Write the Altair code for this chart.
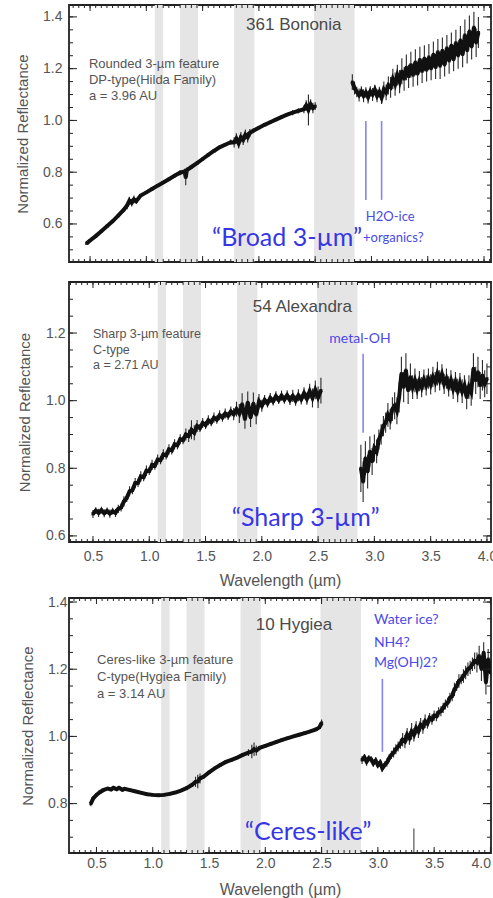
import altair as alt
import pandas as pd

FONT = "Liberation Sans"
BFONT = "Lato"
GRAY = "#555555"
BLUE = "#3636e6"
BLUE_S = "#4a4ae8"
BLUE_L = "#8585f2"

# telluric (masked) bands, micron
band_lo = [1.075, 1.30, 1.78, 2.49]
band_hi = [1.150, 1.46, 1.96, 2.85]

x_major = [0.5, 1.0, 1.5, 2.0, 2.5, 3.0, 3.5, 4.0]

# ---------------- 361 Bononia ----------------
p1a_wl = [0.47, 0.50, 0.55, 0.60, 0.65, 0.70, 0.75, 0.80,
          0.83, 0.85, 0.87, 0.89, 0.91,
          0.95, 1.00, 1.05, 1.10, 1.15, 1.20, 1.25, 1.30,
          1.34, 1.35, 1.36,
          1.40, 1.45, 1.50, 1.55, 1.60, 1.65, 1.70, 1.75,
          1.78, 1.80, 1.82, 1.84, 1.86, 1.88, 1.90, 1.92,
          1.95, 2.00, 2.05, 2.10, 2.15, 2.20, 2.25, 2.30, 2.35, 2.40,
          2.42, 2.44, 2.46, 2.48, 2.50]
p1a_r = [0.525, 0.536, 0.553, 0.572, 0.591, 0.610, 0.632, 0.655,
         0.672, 0.690, 0.682, 0.695, 0.688,
         0.710, 0.722, 0.735, 0.748, 0.760, 0.773, 0.786, 0.798,
         0.803, 0.780, 0.808,
         0.820, 0.835, 0.851, 0.867, 0.882, 0.896, 0.906, 0.916,
         0.915, 0.930, 0.912, 0.935, 0.925, 0.945, 0.935, 0.952,
         0.960, 0.972, 0.983, 0.993, 1.003, 1.013, 1.022, 1.030, 1.037, 1.043,
         1.058, 1.040, 1.062, 1.048, 1.055]
p1a_e = [0, 0, 0.005, 0.005, 0, 0, 0, 0.01,
         0.015, 0.015, 0.015, 0.015, 0.01,
         0, 0, 0, 0, 0, 0, 0, 0.01,
         0.01, 0.03, 0.01,
         0, 0, 0, 0, 0, 0, 0, 0.01,
         0.02, 0.02, 0.02, 0.02, 0.02, 0.02, 0.02, 0.015,
         0.01, 0, 0, 0, 0, 0, 0, 0.01, 0.01, 0.015,
         0.02, 0.06, 0.02, 0.02, 0.015]
p1b_wl = [2.83, 2.85, 2.87, 2.89, 2.91, 2.93, 2.95, 2.97, 2.99, 3.01,
          3.03, 3.05, 3.07, 3.09, 3.11, 3.13, 3.15, 3.17, 3.19, 3.21,
          3.23, 3.25, 3.27, 3.29, 3.31, 3.33, 3.35, 3.37, 3.39, 3.41,
          3.43, 3.45, 3.47, 3.49, 3.51, 3.53, 3.55, 3.57, 3.59, 3.61,
          3.63, 3.65, 3.67, 3.69, 3.71, 3.73, 3.75, 3.77, 3.79, 3.81,
          3.83, 3.85, 3.87, 3.89, 3.91, 3.93, 3.95]
p1b_r = [1.148, 1.125, 1.110, 1.098, 1.112, 1.095, 1.108, 1.090, 1.112, 1.100,
         1.118, 1.095, 1.110, 1.088, 1.120, 1.108, 1.135, 1.128, 1.160, 1.140,
         1.175, 1.150, 1.190, 1.160, 1.205, 1.170, 1.215, 1.175, 1.225, 1.180,
         1.235, 1.190, 1.240, 1.195, 1.245, 1.200, 1.255, 1.205, 1.265, 1.210,
         1.270, 1.215, 1.280, 1.230, 1.290, 1.235, 1.300, 1.250, 1.310, 1.255,
         1.330, 1.270, 1.345, 1.285, 1.360, 1.300, 1.340]
p1b_e = [0.03, 0.025, 0.02, 0.025, 0.02, 0.025, 0.02, 0.025, 0.02, 0.025,
         0.02, 0.025, 0.02, 0.025, 0.03, 0.03, 0.035, 0.04, 0.04, 0.045,
         0.04, 0.045, 0.05, 0.045, 0.05, 0.045, 0.05, 0.045, 0.05, 0.045,
         0.05, 0.045, 0.05, 0.045, 0.05, 0.045, 0.05, 0.045, 0.05, 0.05,
         0.05, 0.045, 0.05, 0.05, 0.05, 0.045, 0.05, 0.05, 0.055, 0.05,
         0.06, 0.05, 0.06, 0.05, 0.06, 0.055, 0.06]

# ---------------- 54 Alexandra ----------------
p2a_wl = [0.500, 0.525, 0.550, 0.575, 0.600, 0.625, 0.650, 0.675, 0.700, 0.725,
          0.750, 0.775, 0.800, 0.825, 0.850, 0.875, 0.900, 0.925, 0.950, 0.975,
          1.000, 1.025, 1.050, 1.075, 1.100, 1.125, 1.150, 1.175, 1.200, 1.225,
          1.250, 1.275, 1.300, 1.325, 1.350, 1.375, 1.400, 1.425, 1.450, 1.475,
          1.500, 1.525, 1.550, 1.575, 1.600, 1.625, 1.650, 1.675, 1.700, 1.725,
          1.750, 1.775, 1.800, 1.825, 1.850, 1.875, 1.900, 1.925, 1.950, 1.975,
          2.000, 2.025, 2.050, 2.075, 2.100, 2.125, 2.150, 2.175, 2.200, 2.225,
          2.250, 2.275, 2.300, 2.325, 2.350, 2.375, 2.400, 2.425, 2.450, 2.475,
          2.500, 2.525]
p2a_r = [0.665, 0.675, 0.668, 0.676, 0.667, 0.674, 0.666, 0.673, 0.668, 0.680,
         0.684, 0.702, 0.712, 0.732, 0.735, 0.756, 0.757, 0.776, 0.774, 0.793,
         0.792, 0.810, 0.808, 0.826, 0.824, 0.841, 0.838, 0.856, 0.853, 0.871,
         0.868, 0.886, 0.883, 0.900, 0.896, 0.914, 0.905, 0.925, 0.919, 0.934,
         0.928, 0.942, 0.936, 0.950, 0.944, 0.957, 0.950, 0.962, 0.955, 0.968,
         0.960, 0.975, 0.962, 0.990, 0.945, 0.995, 0.950, 0.992, 0.958, 0.998,
         0.985, 1.002, 0.992, 1.008, 0.998, 1.013, 1.002, 1.015, 1.003, 1.016,
         1.002, 1.014, 1.000, 1.016, 1.004, 1.022, 1.006, 1.028, 1.008, 1.032,
         1.010, 1.030]
p2a_e = [0.012, 0.01, 0.012, 0.01, 0.012, 0.01, 0.012, 0.01, 0.012, 0.012,
         0.012, 0.015, 0.012, 0.015, 0.012, 0.015, 0.012, 0.015, 0.012, 0.015,
         0.012, 0.015, 0.012, 0.015, 0.012, 0.015, 0.012, 0.015, 0.012, 0.015,
         0.012, 0.015, 0.012, 0.018, 0.018, 0.028, 0.022, 0.018, 0.012, 0.015,
         0.012, 0.015, 0.012, 0.015, 0.012, 0.015, 0.012, 0.015, 0.012, 0.015,
         0.018, 0.022, 0.028, 0.032, 0.028, 0.032, 0.028, 0.032, 0.028, 0.022,
         0.018, 0.015, 0.012, 0.015, 0.012, 0.015, 0.012, 0.015, 0.012, 0.015,
         0.015, 0.018, 0.015, 0.018, 0.015, 0.018, 0.018, 0.022, 0.028, 0.028,
         0.032, 0.038]
p2b_wl = [2.88, 2.90, 2.92, 2.94, 2.96, 2.98, 3.00, 3.02, 3.04, 3.06,
          3.08, 3.10, 3.12, 3.14, 3.16, 3.18, 3.20, 3.22, 3.24, 3.26,
          3.28, 3.30, 3.32, 3.34, 3.36, 3.38, 3.40, 3.42, 3.44, 3.46,
          3.48, 3.50, 3.52, 3.54, 3.56, 3.58, 3.60, 3.62, 3.64, 3.66,
          3.68, 3.70, 3.72, 3.74, 3.76, 3.78, 3.80, 3.82, 3.84, 3.86,
          3.88, 3.90, 3.92, 3.94, 3.96, 3.98, 4.00]
p2b_r = [0.800, 0.760, 0.830, 0.790, 0.850, 0.820, 0.860, 0.850, 0.885, 0.900,
         0.925, 0.935, 0.958, 0.945, 0.975, 0.985, 0.970, 1.010, 1.080, 1.040,
         1.090, 1.030, 1.070, 1.040, 1.060, 1.035, 1.058, 1.040, 1.062, 1.045,
         1.065, 1.048, 1.070, 1.055, 1.080, 1.060, 1.078, 1.050, 1.065, 1.042,
         1.060, 1.035, 1.055, 1.030, 1.052, 1.028, 1.045, 1.010, 1.040, 1.025,
         1.095, 1.060, 1.085, 1.045, 1.075, 1.050, 1.065]
p2b_e = [0.07, 0.06, 0.05, 0.05, 0.045, 0.04, 0.04, 0.035, 0.03, 0.03,
         0.03, 0.03, 0.035, 0.03, 0.035, 0.04, 0.04, 0.045, 0.05, 0.045,
         0.05, 0.04, 0.04, 0.035, 0.035, 0.03, 0.03, 0.03, 0.03, 0.03,
         0.03, 0.03, 0.03, 0.03, 0.035, 0.03, 0.03, 0.03, 0.03, 0.03,
         0.03, 0.03, 0.03, 0.035, 0.03, 0.035, 0.03, 0.035, 0.035, 0.04,
         0.045, 0.04, 0.045, 0.04, 0.045, 0.04, 0.045]

# ---------------- 10 Hygiea ----------------
p3a_wl = [0.45, 0.47, 0.50, 0.53, 0.56, 0.60, 0.63, 0.65, 0.68, 0.70,
          0.73, 0.75, 0.80, 0.85, 0.90, 0.95, 1.00, 1.05, 1.10, 1.15,
          1.20, 1.25, 1.30, 1.35, 1.38, 1.40, 1.42, 1.45, 1.50, 1.55,
          1.60, 1.65, 1.70, 1.75, 1.80, 1.85, 1.88, 1.90, 1.92, 1.95,
          2.00, 2.05, 2.10, 2.15, 2.20, 2.25, 2.30, 2.35, 2.40, 2.45,
          2.48, 2.50]
p3a_r = [0.800, 0.815, 0.826, 0.834, 0.840, 0.845, 0.842, 0.847, 0.843, 0.847,
         0.841, 0.844, 0.840, 0.836, 0.832, 0.828, 0.826, 0.825, 0.826, 0.829,
         0.833, 0.839, 0.846, 0.856, 0.865, 0.866, 0.875, 0.880, 0.893, 0.905,
         0.915, 0.924, 0.930, 0.937, 0.945, 0.952, 0.955, 0.962, 0.958, 0.966,
         0.972, 0.978, 0.984, 0.990, 0.995, 1.000, 1.005, 1.010, 1.015, 1.021,
         1.027, 1.040]
p3a_e = [0.008, 0.008, 0.005, 0, 0, 0, 0, 0, 0, 0,
         0, 0, 0, 0, 0, 0, 0, 0, 0, 0,
         0, 0, 0, 0, 0.015, 0.02, 0.015, 0, 0, 0,
         0, 0, 0, 0, 0, 0.01, 0.02, 0.02, 0.015, 0,
         0, 0, 0, 0, 0, 0, 0, 0, 0, 0,
         0.005, 0.01]
p3b_wl = [2.86, 2.88, 2.90, 2.92, 2.94, 2.96, 2.98, 3.00, 3.02, 3.04,
          3.06, 3.08, 3.10, 3.12, 3.14, 3.16, 3.18, 3.20, 3.22, 3.24,
          3.26, 3.28, 3.30, 3.32, 3.34, 3.36, 3.38, 3.40, 3.42, 3.44,
          3.46, 3.48, 3.50, 3.52, 3.54, 3.56, 3.58, 3.60, 3.62, 3.64,
          3.66, 3.68, 3.70, 3.72, 3.74, 3.76, 3.78, 3.80, 3.82, 3.84,
          3.86, 3.88, 3.90, 3.92, 3.94, 3.96, 3.98, 4.00]
p3b_r = [0.930, 0.938, 0.925, 0.935, 0.932, 0.920, 0.928, 0.915, 0.922, 0.905,
         0.915, 0.922, 0.935, 0.945, 0.952, 0.962, 0.970, 0.978, 0.990, 0.985,
         1.005, 0.995, 1.015, 1.005, 1.025, 1.015, 1.035, 1.028, 1.045, 1.038,
         1.055, 1.050, 1.062, 1.060, 1.072, 1.075, 1.085, 1.095, 1.100, 1.115,
         1.120, 1.140, 1.150, 1.165, 1.170, 1.180, 1.190, 1.200, 1.205, 1.215,
         1.225, 1.220, 1.240, 1.200, 1.250, 1.160, 1.230, 1.190]
p3b_e = [0.012, 0.01, 0.012, 0.01, 0.01, 0.01, 0.01, 0.01, 0.01, 0.01,
         0.01, 0.012, 0.012, 0.012, 0.015, 0.015, 0.015, 0.015, 0.02, 0.02,
         0.02, 0.02, 0.025, 0.02, 0.02, 0.02, 0.02, 0.02, 0.02, 0.015,
         0.015, 0.015, 0.015, 0.015, 0.015, 0.015, 0.015, 0.015, 0.015, 0.015,
         0.015, 0.02, 0.015, 0.02, 0.015, 0.02, 0.02, 0.02, 0.02, 0.02,
         0.025, 0.03, 0.03, 0.035, 0.03, 0.035, 0.03, 0.035]
p3_out_wl = [3.32]
p3_out_lo = [0.60]
p3_out_hi = [0.726]


def make_panel(wl_a, r_a, e_a, wl_b, r_b, e_b, xdom, ydom, W, H, yvals,
               show_x, xlab_pad, xtit_pad, ylab_pad, ytit_pad, ann,
               note_size=13, out=None):
    spec = pd.DataFrame({
        "wl": wl_a + wl_b, "refl": r_a + r_b, "err": e_a + e_b,
        "seg": ["a"] * len(wl_a) + ["b"] * len(wl_b)})
    xs = alt.Scale(domain=xdom, nice=False, zero=False)
    ys = alt.Scale(domain=ydom, nice=False, zero=False)
    if show_x:
        xax = alt.Axis(values=x_major, format=".1f", title="Wavelength (µm)",
                       labelPadding=xlab_pad, titlePadding=xtit_pad)
    else:
        xax = alt.Axis(values=x_major, format=".1f", title=None,
                       labelOpacity=0, labelPadding=xlab_pad, labelFontSize=12)
    yax = alt.Axis(values=yvals, format=".1f", title="Normalized Reflectance",
                   labelPadding=ylab_pad, titlePadding=ytit_pad)

    def X(f):
        return alt.X(f, type="quantitative", scale=xs, axis=xax)

    def Y(f):
        return alt.Y(f, type="quantitative", scale=ys, axis=yax)

    layers = []
    layers.append(alt.Chart(pd.DataFrame({"lo": band_lo, "hi": band_hi}))
                  .mark_rect(color="#e5e5e5")
                  .encode(x=X("lo"), x2="hi", y=alt.value(0), y2=alt.value(H)))
    layers.append(alt.Chart(spec).transform_filter("datum.err > 0")
                  .transform_calculate(lo="datum.refl - datum.err",
                                       hi="datum.refl + datum.err")
                  .mark_rule(color="#2a2a2a", strokeWidth=1.1, clip=True)
                  .encode(x=X("wl"), y=Y("lo"), y2="hi"))
    layers.append(alt.Chart(spec)
                  .mark_line(color="#111111", strokeWidth=4, clip=True)
                  .encode(x=X("wl"), y=Y("refl"), detail="seg:N"))
    layers.append(alt.Chart(spec)
                  .mark_square(color="#111111", size=9, opacity=1, clip=True)
                  .encode(x=X("wl"), y=Y("refl")))
    if out is not None:
        layers.append(alt.Chart(pd.DataFrame({"wl": out[0], "lo": out[1], "hi": out[2]}))
                      .mark_rule(color="#333333", strokeWidth=1, clip=True)
                      .encode(x=X("wl"), y=Y("lo"), y2="hi"))
    # blue marker lines
    layers.append(alt.Chart(pd.DataFrame({"x": ann["bl_x"], "t": ann["bl_top"], "b": ann["bl_bot"]}))
                  .mark_rule(color=BLUE_L, strokeWidth=1.6)
                  .encode(x=X("x"), y=Y("t"), y2="b"))

    def txt(labels, xv, yv, size, color, font, align, weight="normal"):
        df = pd.DataFrame({"label": labels, "x": xv, "y": yv})
        return (alt.Chart(df)
                .mark_text(fontSize=size, color=color, font=font, align=align,
                           baseline="middle", fontWeight=weight)
                .encode(x=X("x"), y=Y("y"), text="label:N"))

    layers.append(txt([ann["name"]], [ann["name_x"]], [ann["name_y"]], 17, "#4a4a4a", FONT, "center"))
    layers.append(txt(ann["notes"], [ann["notes_x"]] * len(ann["notes"]), ann["notes_y"], note_size, GRAY, FONT, "left"))
    layers.append(txt(ann["blue"], ann["blue_x"], ann["blue_y"], ann.get("blue_size", 14), BLUE_S, BFONT, "left"))
    layers.append(txt([ann["big"]], [ann["big_x"]], [ann["big_y"]], 25, BLUE, BFONT, "center"))

    # inward frame ticks
    x_minor = [round(0.05 * i, 2) for i in range(1, 82)]
    y_minor = [round(0.05 * i, 2) for i in range(8, 30)]
    y_major = [0.6, 0.8, 1.0, 1.2, 1.4]
    xmi = pd.DataFrame({"t": [v for v in x_minor if xdom[0] < v < xdom[1]]})
    xma = pd.DataFrame({"t": [v for v in x_major if xdom[0] < v < xdom[1]]})
    ymi = pd.DataFrame({"t": [v for v in y_minor if ydom[0] < v < ydom[1]]})
    yma = pd.DataFrame({"t": [v for v in y_major if ydom[0] < v < ydom[1]]})
    tk = dict(color="#222222", strokeWidth=1)
    for df, L in ((xmi, 3), (xma, 6)):
        layers.append(alt.Chart(df).mark_rule(**tk).encode(x=X("t"), y=alt.value(H), y2=alt.value(H - L)))
        layers.append(alt.Chart(df).mark_rule(**tk).encode(x=X("t"), y=alt.value(0), y2=alt.value(L)))
    for df, L in ((ymi, 4), (yma, 8)):
        layers.append(alt.Chart(df).mark_rule(**tk).encode(y=Y("t"), x=alt.value(0), x2=alt.value(L)))
        layers.append(alt.Chart(df).mark_rule(**tk).encode(y=Y("t"), x=alt.value(W), x2=alt.value(W - L)))

    return alt.layer(*layers).properties(width=W, height=H)


ann1 = dict(name="361 Bononia", name_x=2.31, name_y=1.369,
            notes=["Rounded 3-µm feature", "DP-type(Hilda Family)", "a = 3.96 AU"],
            notes_x=0.49, notes_y=[1.218, 1.156, 1.094],
            blue=["H2O-ice", "+organics?"], blue_x=[2.95, 2.925], blue_y=[0.627, 0.546],
            blue_size=13,
            big="“Broad 3-µm”", big_x=2.25, big_y=0.546,
            bl_x=[2.95, 3.09], bl_top=[0.998, 0.998], bl_bot=[0.693, 0.693])
ann2 = dict(name="54 Alexandra", name_x=2.36, name_y=1.277,
            notes=["Sharp 3-µm feature", "C-type", "a = 2.71 AU"],
            notes_x=0.5, notes_y=[1.197, 1.151, 1.105],
            blue=["metal-OH"], blue_x=[2.60], blue_y=[1.182],
            big="“Sharp 3-µm”", big_x=2.39, big_y=0.653,
            bl_x=[2.90], bl_top=[1.139], bl_bot=[0.905])
ann3 = dict(name="10 Hygiea", name_x=2.255, name_y=1.332,
            notes=["Ceres-like  3-µm feature", "C-type(Hygiea Family)", "a = 3.14 AU"],
            notes_x=0.505, notes_y=[1.227, 1.177, 1.126],
            blue=["Water ice?", "NH4?", "Mg(OH)2?"], blue_x=[2.965, 2.965, 2.965],
            blue_y=[1.347, 1.278, 1.219],
            big="“Ceres-like”", big_x=2.38, big_y=0.716,
            bl_x=[3.04], bl_top=[1.171], bl_bot=[0.954])

W = 422
p1 = make_panel(p1a_wl, p1a_r, p1a_e, p1b_wl, p1b_r, p1b_e,
                [0.313, 4.062], [0.453, 1.446], W, 257, [0.6, 0.8, 1.0, 1.2, 1.4],
                False, 1, 0, 7, 12.5, ann1)
p2 = make_panel(p2a_wl, p2a_r, p2a_e, p2b_wl, p2b_r, p2b_e,
                [0.287, 4.036], [0.582, 1.351], W, 260, [0.6, 0.8, 1.0, 1.2],
                True, 7, 9, 4, 13.5, ann2, note_size=12.5)
p3 = make_panel(p3a_wl, p3a_r, p3a_e, p3b_wl, p3b_r, p3b_e,
                [0.256, 4.005], [0.653, 1.412], W, 255, [0.8, 1.0, 1.2, 1.4],
                True, 3, 11, 2, 12.5, ann3, out=(p3_out_wl, p3_out_lo, p3_out_hi))

chart = (alt.vconcat(p1, p2, p3, spacing=5)
         .properties(padding={"left": 14, "top": 3, "right": -5, "bottom": 0},
                     background="white")
         .configure_view(stroke="#222222", strokeWidth=1.8)
         .configure_axis(grid=False, ticks=False, domain=False,
                         labelFont=FONT, titleFont=FONT, labelColor=GRAY,
                         titleColor=GRAY, labelFontSize=14, titleFontWeight="normal")
         .configure_axisX(titleFontSize=16)
         .configure_axisY(titleFontSize=15))

chart.save("out.html", embed_options={"renderer": "svg", "actions": False})
